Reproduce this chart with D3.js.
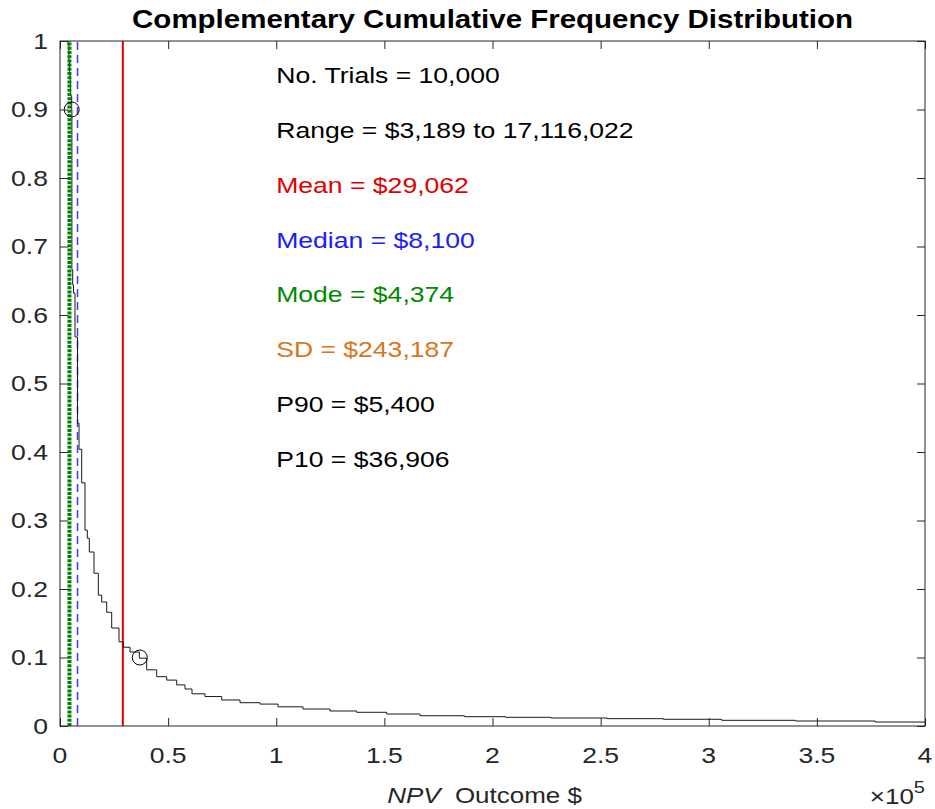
<!DOCTYPE html>
<html><head><meta charset="utf-8">
<script src="https://cdn.jsdelivr.net/npm/d3@7"></script>
<style>
body{margin:0;background:#fff;}
svg{display:block;font-family:"Liberation Sans",Arial,Helvetica,sans-serif;}
</style></head>
<body>
<svg id="chart" width="935" height="809"></svg>
<script>
// ---- data ----
const npvSteps = [3189, 3700, 4100, 4374, 4800, 5400, 5500, 5873, 6242, 6936, 8092, 8786, 10034, 11560, 12623, 13548, 15722, 17710, 19282, 21594, 23906, 27282, 29270, 32368, 36700, 40090, 44714, 49338, 53962, 57800, 61037, 67048, 74770, 83232, 92480, 100803, 112363, 124848, 137194, 151066, 166464, 187000, 206000, 227000, 253000, 279000, 306000, 340000, 377000, 400000];
const ccdfValues = [1.0, 0.995, 0.97, 0.95, 0.92, 0.90, 0.666, 0.644, 0.632, 0.568, 0.442, 0.404, 0.355, 0.286, 0.274, 0.254, 0.223, 0.191, 0.181, 0.166, 0.143, 0.123, 0.115, 0.108, 0.099, 0.082, 0.072, 0.067, 0.060, 0.054, 0.047, 0.043, 0.038, 0.034, 0.032, 0.028, 0.0248, 0.0219, 0.0200, 0.0175, 0.0150, 0.0136, 0.0127, 0.0117, 0.0107, 0.0098, 0.0083, 0.0073, 0.0058, 0.0058];
const xTicks = [0, 50000, 100000, 150000, 200000, 250000, 300000, 350000, 400000];
const xTickLabels = ["0", "0.5", "1", "1.5", "2", "2.5", "3", "3.5", "4"];
const yTicks = [0, 0.1, 0.2, 0.3, 0.4, 0.5, 0.6, 0.7, 0.8, 0.9, 1];
const yTickLabels = ["0", "0.1", "0.2", "0.3", "0.4", "0.5", "0.6", "0.7", "0.8", "0.9", "1"];
const statNames = ["mean", "median", "mode"];
const statValues = [29062, 8100, 4374];
const percentileX = [5400, 36906];
const percentileY = [0.9, 0.1];
const annotationTexts = ["No. Trials = 10,000", "Range = $3,189 to 17,116,022", "Mean = $29,062", "Median = $8,100", "Mode = $4,374", "SD = $243,187", "P90 = $5,400", "P10 = $36,906"];
const annotationColors = ["#000000", "#000000", "#e00000", "#1a1aff", "#008a00", "#d9761c", "#000000", "#000000"];

// ---- layout ----
const L = 60, R = 925, T = 41, B = 726;
const SX = 1.18;
const FS = 22.5;
const svg = d3.select("#chart");
const x = d3.scaleLinear().domain([0, 400000]).range([L, R]);
const y = d3.scaleLinear().domain([0, 1]).range([B, T]);
const axisColor = "#262626";

function txt(px, py, s, opts = {}) {
  const t = svg.append("text")
    .attr("transform", `translate(${px},${py}) scale(${SX},1)`)
    .attr("text-anchor", opts.anchor || "start")
    .style("font-size", (opts.size || FS) + "px")
    .attr("fill", opts.color || axisColor);
  if (opts.bold) t.style("font-weight", "bold");
  if (opts.dy) t.attr("dy", opts.dy);
  if (s !== null) t.text(s);
  return t;
}

svg.append("clipPath").attr("id", "plotclip")
  .append("rect").attr("x", L).attr("y", T).attr("width", R - L).attr("height", B - T);
const plot = svg.append("g").attr("clip-path", "url(#plotclip)");

const statStyle = {
  mean: {color: "#e00000", width: 2, dash: null},
  median: {color: "#3d3dff", width: 1.5, dash: "8,5"},
  mode: {color: "#008000", width: 4, dash: "3,1.2"}
};
function statLine(i) {
  const s = statStyle[statNames[i]];
  const ln = plot.append("line")
    .attr("x1", x(statValues[i])).attr("x2", x(statValues[i]))
    .attr("y1", y(0)).attr("y2", y(1))
    .attr("stroke", s.color).attr("stroke-width", s.width);
  if (s.dash) ln.attr("stroke-dasharray", s.dash);
}
statLine(0); statLine(1);

// CCDF step curve
const pts = npvSteps.map((v, i) => [v, ccdfValues[i]]);
plot.append("path")
  .attr("d", d3.line().x(d => x(d[0])).y(d => y(d[1])).curve(d3.curveStepAfter)(pts))
  .attr("fill", "none").attr("stroke", "#1a1a1a").attr("stroke-width", 1);

statLine(2);

// percentile circles
percentileX.forEach((v, i) => {
  plot.append("circle").attr("cx", x(v)).attr("cy", y(percentileY[i])).attr("r", 7.5)
    .attr("fill", "none").attr("stroke", "#000").attr("stroke-width", 1);
});

// axes box
svg.append("rect").attr("x", L).attr("y", T).attr("width", R - L).attr("height", B - T)
  .attr("fill", "none").attr("stroke", axisColor).attr("stroke-width", 1);

const tickLen = 8;
const axes = [
  svg.append("g").attr("transform", `translate(0,${B})`)
    .call(d3.axisBottom(x).tickValues(xTicks).tickSizeInner(-tickLen).tickSizeOuter(0).tickFormat("")),
  svg.append("g").attr("transform", `translate(0,${T})`)
    .call(d3.axisTop(x).tickValues(xTicks).tickSizeInner(-tickLen).tickSizeOuter(0).tickFormat("")),
  svg.append("g").attr("transform", `translate(${L},0)`)
    .call(d3.axisLeft(y).tickValues(yTicks).tickSizeInner(-tickLen).tickSizeOuter(0).tickFormat("")),
  svg.append("g").attr("transform", `translate(${R},0)`)
    .call(d3.axisRight(y).tickValues(yTicks).tickSizeInner(-tickLen).tickSizeOuter(0).tickFormat(""))
];
axes.forEach(g => {
  g.select(".domain").remove();
  g.selectAll(".tick line").attr("stroke", axisColor);
  g.selectAll("text").remove();
});

// tick labels
xTicks.forEach((v, i) => txt(x(v), 763, xTickLabels[i], {anchor: "middle"}));
yTicks.forEach((v, i) => txt(48, y(v), yTickLabels[i], {anchor: "end", dy: "0.35em"}));

// title
txt((L + R) / 2, 28, "Complementary Cumulative Frequency Distribution",
  {anchor: "middle", size: 25, bold: true, color: "#000"});

// x label
const xl = txt((L + R) / 2 - 8, 803, null, {anchor: "middle", size: 22});
xl.append("tspan").style("font-style", "italic").text("NPV");
xl.append("tspan").text("\u00a0 Outcome $");

// exponent
const ex = txt(R, 804, null, {anchor: "end", size: 22});
ex.append("tspan").text("\u00d710");
ex.append("tspan").attr("dy", "-11").style("font-size", "17px").text("5");

// annotations
const annX = 100000;
annotationTexts.forEach((t, i) => {
  txt(x(annX), y(0.95 - 0.08 * i), t, {dy: "0.35em", color: annotationColors[i]});
});
</script>
</body></html>
